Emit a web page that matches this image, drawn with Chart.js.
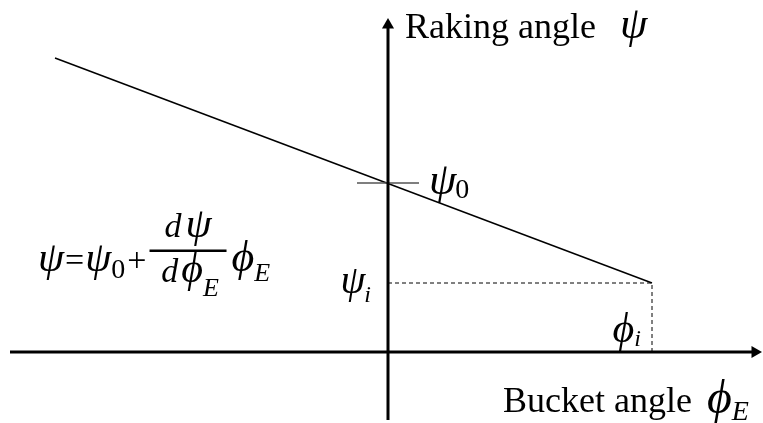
<!DOCTYPE html>
<html>
<head>
<meta charset="utf-8">
<script src="https://cdn.jsdelivr.net/npm/chart.js@4/dist/chart.umd.min.js"></script>
<style>
html, body { margin: 0; padding: 0; background: #fff; }
#wrap { width: 763px; height: 423px; }
</style>
</head>
<body>
<div id="wrap"><canvas id="c"></canvas></div>
<script>

// schematic units, origin where the two axes cross
var xRange = [-3.88, 3.75],
    yRange = [-0.71, 3.52];

// raking angle vs bucket angle
var rakeX = [-3.33, 2.64],
    rakeY = [2.94, 0.69];
var psi0 = 1.69;
var phiI = 2.64,
    psiI = 0.69;

// axes and the psi0 tick
var xAxisX = [-3.78, 3.67],
    yAxisY = [-0.68, 3.27];
var tickX = [-0.31, 0.31];

var serif = '"Liberation Serif", "Times New Roman", serif';
var PSI = '\u03c8', PHI = '\u03d5';

function pts(xs, ys) {
    return xs.map(function(x, i) { return {x: x, y: ys[i]}; });
}

// pieces drawn left to right: [text, size, italic, dy, extra gap]
function run(ctx, x, y, parts) {
    parts.forEach(function(p) {
        ctx.font = (p[2] ? 'italic ' : '') + p[1] + 'px ' + serif;
        ctx.fillText(p[0], x, y + (p[3] || 0));
        x += ctx.measureText(p[0]).width + (p[4] || 0);
    });
    return x;
}

function runWidth(ctx, parts) {
    var w = 0;
    parts.forEach(function(p) {
        ctx.font = (p[2] ? 'italic ' : '') + p[1] + 'px ' + serif;
        w += ctx.measureText(p[0]).width + (p[4] || 0);
    });
    return w;
}

var labels = {
    id: 'labels',
    afterDatasetsDraw: function(chart) {
        var ctx = chart.ctx,
            sx = chart.scales.x,
            sy = chart.scales.y,
            ox = sx.getPixelForValue(0),
            oy = sy.getPixelForValue(0);
        ctx.save();
        ctx.fillStyle = '#000';
        ctx.textBaseline = 'alphabetic';
        ctx.textAlign = 'left';

        // axis titles
        run(ctx, ox + 17, 38, [['Raking angle ', 36, false, 0, 15], [PSI, 44, true]]);
        run(ctx, ox + 115, oy + 60,
            [['Bucket angle ', 36, false, 0, 6], [PHI, 48, true, 1, 0], ['E', 28, true, 8]]);

        // psi0 at the intercept
        var py = sy.getPixelForValue(psi0);
        run(ctx, ox + 41, py + 11, [[PSI, 44, true, 0, -1], ['0', 28, false, 4]]);

        // psi_i and phi_i
        var iy = sy.getPixelForValue(psiI),
            ix = sx.getPixelForValue(phiI);
        var a = [[PSI, 40, true, 0, -1], ['i', 24, true, 9]];
        run(ctx, ox - 17 - runWidth(ctx, a), iy + 10, a);
        var b = [[PHI, 42, true, 0, 0], ['i', 24, true, 4]];
        run(ctx, ix - 11 - runWidth(ctx, b), oy - 10, b);

        // psi = psi0 + dpsi/dphiE * phiE
        var by = 271;
        var x = run(ctx, 38, by, [[PSI, 42, true, 0, 1], ['=', 34, false, 0, 1], [PSI, 42, true, 0, 0],
            ['0', 28, false, 7, 2], ['+', 34, false, 0, 3]]);
        var fx0 = x, fx1 = x + 77;
        ctx.fillRect(fx0, 249.5, fx1 - fx0, 2.5);
        var num = [['d', 34, true, 0, 4], [PSI, 42, true]],
            den = [['d', 34, true, 0, 3], [PHI, 42, true, 0, 0], ['E', 26, true, 14]];
        run(ctx, (fx0 + fx1) / 2 - runWidth(ctx, num) / 2, 237, num);
        run(ctx, (fx0 + fx1) / 2 - runWidth(ctx, den) / 2 + 2, 282, den);
        run(ctx, fx1 + 5, by, [[PHI, 44, true, 0, 0], ['E', 26, true, 10]]);

        ctx.restore();
    }
};

var lineDs = function(data, extra) {
    var ds = {
        data: data,
        borderColor: '#000',
        borderWidth: 1.5,
        pointRadius: 0,
        showLine: true,
        fill: false,
        clip: false
    };
    for (var k in extra) ds[k] = extra[k];
    return ds;
};

new Chart(document.getElementById('c').getContext('2d'), {
    type: 'scatter',
    data: {
        datasets: [
            lineDs(pts(xAxisX, [0, 0]), {
                borderWidth: 3,
                pointRadius: [0, 7],
                pointStyle: 'triangle',
                rotation: 90,
                pointBackgroundColor: '#000',
                pointBorderWidth: 0
            }),
            lineDs(pts([0, 0], yAxisY), {
                borderWidth: 3,
                pointRadius: [0, 7],
                pointStyle: 'triangle',
                rotation: 0,
                pointBackgroundColor: '#000',
                pointBorderWidth: 0
            }),
            lineDs(pts(tickX, [psi0, psi0]), {borderColor: '#555', borderWidth: 1.5}),
            lineDs(pts(rakeX, rakeY)),
            lineDs(pts([0, phiI, phiI], [psiI, psiI, 0]), {
                borderWidth: 1,
                borderDash: [4, 3]
            })
        ]
    },
    options: {
        responsive: true,
        maintainAspectRatio: false,
        animation: false,
        layout: {padding: 0, autoPadding: false},
        plugins: {
            legend: {display: false},
            tooltip: {enabled: false}
        },
        scales: {
            x: {type: 'linear', display: false, min: xRange[0], max: xRange[1]},
            y: {type: 'linear', display: false, min: yRange[0], max: yRange[1]}
        }
    },
    plugins: [labels]
});
</script>
</body>
</html>
